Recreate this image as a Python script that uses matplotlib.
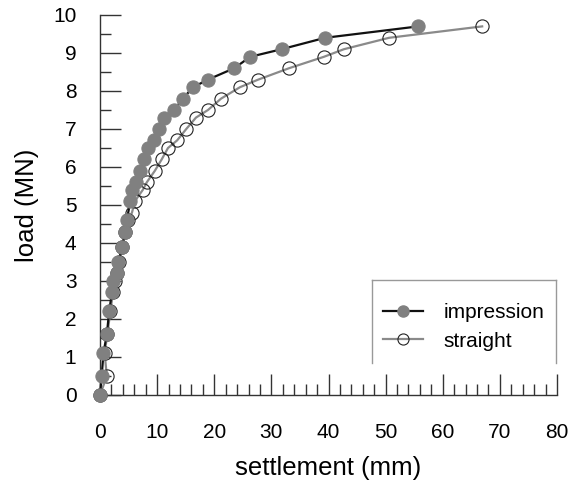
import matplotlib
matplotlib.use("Agg")
import matplotlib.pyplot as plt
from matplotlib.ticker import MultipleLocator
from matplotlib.lines import Line2D

plt.rcParams['font.family'] = ['Liberation Sans', 'DejaVu Sans']

# Data
impression_settlement = [0, 0.3, 0.6, 1.2, 1.6, 2.1, 2.3, 2.9, 3.2, 3.9, 4.4, 4.7, 5.3, 5.6,
                         6.3, 7.0, 7.7, 8.4, 9.5, 10.4, 11.2, 13.0, 14.5, 16.3, 18.9, 23.5,
                         26.3, 31.8, 39.4, 55.7]
impression_load = [0, 0.5, 1.1, 1.6, 2.2, 2.7, 3.0, 3.2, 3.5, 3.9, 4.3, 4.6, 5.1, 5.4,
                   5.6, 5.9, 6.2, 6.5, 6.7, 7.0, 7.3, 7.5, 7.8, 8.1, 8.3, 8.6,
                   8.9, 9.1, 9.4, 9.7]

straight_settlement = [0, 1.2, 0.8, 1.3, 1.8, 2.3, 2.6, 3.0, 3.4, 3.9, 4.3, 4.9, 5.6, 6.1,
                       7.5, 8.2, 9.6, 10.8, 11.9, 13.5, 15.1, 16.8, 18.9, 21.2, 24.5, 27.7,
                       33.1, 39.2, 42.7, 50.6, 66.9]
straight_load = [0, 0.5, 1.1, 1.6, 2.2, 2.7, 3.0, 3.2, 3.5, 3.9, 4.3, 4.6, 4.8, 5.1,
                 5.4, 5.6, 5.9, 6.2, 6.5, 6.7, 7.0, 7.3, 7.5, 7.8, 8.1, 8.3,
                 8.6, 8.9, 9.1, 9.4, 9.7]

series_names = ["impression", "straight"]
x_label = "settlement (mm)"
y_label = "load (MN)"

fig = plt.figure(figsize=(5.75, 4.8), dpi=100)
ax = fig.add_axes([100/575, 1 - 395/480, 457/575, 380/480])

ax.plot(straight_settlement, straight_load, color='#8a8a8a', lw=1.6,
        marker='o', ms=9.5, mfc='none', mec='#222222', mew=0.8,
        clip_on=False, zorder=3, label=series_names[1])
ax.plot(impression_settlement, impression_load, color='#111111', lw=1.6,
        marker='o', ms=9.5, mfc='#808080', mec='#808080', mew=0.8,
        clip_on=False, zorder=4, label=series_names[0])

ax.set_xlim(0, 80)
ax.set_ylim(0, 10)
ax.xaxis.set_major_locator(MultipleLocator(10))
ax.xaxis.set_minor_locator(MultipleLocator(2))
ax.yaxis.set_major_locator(MultipleLocator(1))
ax.yaxis.set_minor_locator(MultipleLocator(0.5))

for s in ['top', 'right']:
    ax.spines[s].set_visible(False)
for s in ['left', 'bottom']:
    ax.spines[s].set_color('#333333')
    ax.spines[s].set_linewidth(1.0)

ax.tick_params(axis='both', which='major', direction='in', length=15, width=1.0,
               color='#333333', labelsize=15, pad=20)
ax.tick_params(axis='both', which='minor', direction='in', length=8, width=1.0,
               color='#333333')
ax.tick_params(axis='y', which='major', pad=17)

ax.set_xlabel(x_label, fontsize=18.5, labelpad=10)
ax.set_ylabel(y_label, fontsize=18.5, labelpad=10)

handles = [
    Line2D([], [], color='#111111', lw=1.6, marker='o', ms=8, mfc='#808080', mec='#808080'),
    Line2D([], [], color='#8a8a8a', lw=1.6, marker='o', ms=8, mfc='none', mec='#222222', mew=0.8),
]
leg = ax.legend(handles, series_names, loc='lower right', bbox_to_anchor=(1.0, 0.084),
                frameon=False, fontsize=15, handlelength=1.9, handletextpad=1.0,
                labelspacing=0.45, borderaxespad=0, borderpad=0.6)

# legend box edges (left, top, right) as in the reference
x0, x1 = (372 - 100) / 457, (556 - 100) / 457
y0, y1 = (395 - 363) / 380, (395 - 280) / 380
for xs, ys in [([x0, x0], [y0, y1]), ([x0, x1], [y1, y1]), ([x1, x1], [y1, y0])]:
    ax.add_line(Line2D(xs, ys, transform=ax.transAxes, color='#999999', lw=1.0, clip_on=False))

fig.savefig("out.png", dpi=100)
